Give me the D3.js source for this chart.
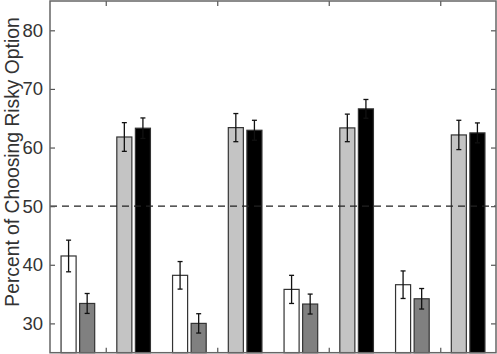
<!DOCTYPE html>
<html>
<head>
<meta charset="utf-8">
<script src="https://cdn.jsdelivr.net/npm/d3@7"></script>
<style>
body { margin: 0; background: #fff; }
</style>
</head>
<body>
<div id="chart"></div>
<script>
var canvasWidth = 497;
var canvasHeight = 354;

/*Data*/
var groups = [1, 2, 3, 4];
var seriesOffsets = [-1/3, -1/6, 1/6, 1/3];
var seriesColors = ["#ffffff", "#808080", "#c4c4c4", "#000000"];
var whiteVals = [41.5, 38.2, 35.8, 36.6];
var whiteErr = [2.7, 2.35, 2.4, 2.35];
var darkVals = [33.4, 30.0, 33.3, 34.2];
var darkErr = [1.7, 1.65, 1.7, 1.75];
var lightVals = [61.8, 63.4, 63.35, 62.15];
var lightErr = [2.45, 2.4, 2.35, 2.5];
var blackVals = [63.3, 62.95, 66.6, 62.5];
var blackErr = [1.75, 1.7, 1.6, 1.7];
var yTicks = [30, 40, 50, 60, 70, 80];
var refLine = 50;

var seriesVals = [whiteVals, darkVals, lightVals, blackVals];
var seriesErr = [whiteErr, darkErr, lightErr, blackErr];

var data = [];
groups.forEach(function (g, i) {
    seriesVals.forEach(function (vals, s) {
        data.push({x: g + seriesOffsets[s], value: vals[i], err: seriesErr[s][i], color: seriesColors[s]});
    });
});

var svg = d3.select("#chart").append("svg")
    .attr("width", canvasWidth)
    .attr("height", canvasHeight);

var plotLeft = 50, plotRight = 496, plotTop = 1, plotBottom = 352.7;

var xScale = d3.scaleLinear().domain([0.5, 4.5]).range([plotLeft, plotRight]);
var yScale = d3.scaleLinear().domain([25, 85]).range([plotBottom, plotTop]);
var barW = xScale(0.135) - xScale(0);

/*Bars*/
svg.selectAll(".bar")
    .data(data)
    .join("rect")
    .attr("x", function (d) { return xScale(d.x) - barW / 2; })
    .attr("y", function (d) { return yScale(d.value); })
    .attr("width", barW)
    .attr("height", function (d) { return yScale(25) - yScale(d.value); })
    .attr("fill", function (d) { return d.color; })
    .attr("stroke", "#333")
    .attr("stroke-width", 1.2);

/*Error bars*/
var eb = svg.selectAll(".err")
    .data(data)
    .join("g")
    .attr("stroke", "#111")
    .attr("stroke-width", 1.3);
eb.append("line")
    .attr("x1", function (d) { return xScale(d.x); })
    .attr("x2", function (d) { return xScale(d.x); })
    .attr("y1", function (d) { return yScale(d.value + d.err); })
    .attr("y2", function (d) { return yScale(d.value - d.err); });
eb.append("line")
    .attr("x1", function (d) { return xScale(d.x) - 2.5; })
    .attr("x2", function (d) { return xScale(d.x) + 2.5; })
    .attr("y1", function (d) { return yScale(d.value + d.err); })
    .attr("y2", function (d) { return yScale(d.value + d.err); });
eb.append("line")
    .attr("x1", function (d) { return xScale(d.x) - 2.5; })
    .attr("x2", function (d) { return xScale(d.x) + 2.5; })
    .attr("y1", function (d) { return yScale(d.value - d.err); })
    .attr("y2", function (d) { return yScale(d.value - d.err); });

/*Reference line*/
svg.append("line")
    .attr("x1", plotLeft)
    .attr("x2", plotRight)
    .attr("y1", yScale(refLine))
    .attr("y2", yScale(refLine))
    .attr("stroke", "#222")
    .attr("stroke-width", 1.2)
    .attr("stroke-dasharray", "7,5");

/*Axes (box with inward ticks)*/
function styleAxis(g) {
    g.select(".domain").remove();
    g.selectAll(".tick line").attr("stroke", "#555").attr("stroke-width", 1.2);
    g.selectAll(".tick text")
        .attr("fill", "#333")
        .style("font-family", "'Liberation Sans', Arial, sans-serif")
        .style("font-size", "18.5px");
}

svg.append("g")
    .attr("transform", "translate(" + plotLeft + ",0)")
    .call(d3.axisLeft(yScale).tickValues(yTicks).tickSize(-5).tickPadding(7).tickFormat(d3.format("d")))
    .call(styleAxis);
svg.append("g")
    .attr("transform", "translate(" + plotRight + ",0)")
    .call(d3.axisRight(yScale).tickValues(yTicks).tickSize(-5).tickFormat(""))
    .call(styleAxis);
svg.append("g")
    .attr("transform", "translate(0," + plotBottom + ")")
    .call(d3.axisBottom(xScale).tickValues(groups).tickSize(-5).tickFormat(""))
    .call(styleAxis);
svg.append("g")
    .attr("transform", "translate(0," + plotTop + ")")
    .call(d3.axisTop(xScale).tickValues(groups).tickSize(-5).tickFormat(""))
    .call(styleAxis);

svg.append("rect")
    .attr("x", plotLeft)
    .attr("y", plotTop)
    .attr("width", plotRight - plotLeft)
    .attr("height", plotBottom - plotTop)
    .attr("fill", "none")
    .attr("stroke", "#666")
    .attr("stroke-width", 1.5);

/*Y label*/
svg.append("text")
    .attr("transform", "translate(18.5,162) rotate(-90)")
    .attr("text-anchor", "middle")
    .attr("fill", "#333")
    .style("font-family", "'Liberation Sans', Arial, sans-serif")
    .style("font-size", "19.3px")
    .text("Percent of Choosing Risky Option");
</script>
</body>
</html>
